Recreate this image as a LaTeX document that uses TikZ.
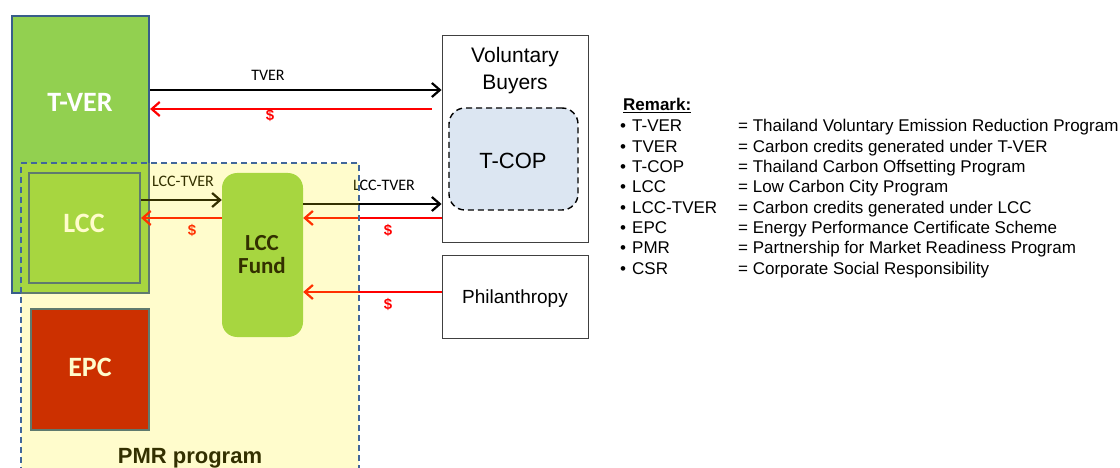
\documentclass[tikz,border=0pt]{standalone}
\usepackage{fontspec}
\setmainfont{Liberation Sans}
\newfontfamily\calfont{Carlito}
\usetikzlibrary{arrows.meta}
\definecolor{tvergreen}{HTML}{92D050}
\definecolor{frameblue}{HTML}{385D8A}
\definecolor{epcred}{HTML}{C00000}
\definecolor{tcopfill}{HTML}{DCE6F2}
\definecolor{pmrline}{HTML}{41679A}
\definecolor{boxline}{HTML}{404040}
\begin{document}
\begin{tikzpicture}[x=1pt,y=-1pt,
  box/.style={draw=frameblue,line width=2.2pt,inner sep=0pt},
  bigtext/.style={font=\calfont\bfseries\fontsize{28}{28}\selectfont,text=white,anchor=base,inner sep=0pt},
  plainbox/.style={draw=boxline,line width=0.9pt,fill=white,inner sep=0pt},
  arial/.style={font=\fontsize{#1}{#1}\selectfont,anchor=base,inner sep=0pt},
  arr/.style={line width=2.2pt,-{Straight Barb[length=8pt,width=14pt,line width=2.2pt]}},
  blk/.style={arr,black},
  redarr/.style={arr,red},
  small/.style={font=\calfont\fontsize{16}{16}\selectfont,anchor=base,inner sep=0pt},
  dollar/.style={font=\bfseries\fontsize{15}{15}\selectfont,text=red,anchor=base,inner sep=0pt},
  legend/.style={font=\fontsize{17}{17}\selectfont,anchor=base west,inner sep=0pt}
]
\useasboundingbox (0,0) rectangle (1120,468);

% T-VER box
\node[box,fill=tvergreen,minimum width=137pt,minimum height=277pt] (tver) at (80.5,154.5) {};
\node[bigtext] (tvert) at (80,112) {T-VER};

% LCC box
\node[box,fill=tvergreen,minimum width=111pt,minimum height=110pt] (lcc) at (84.5,228) {};
\node[bigtext] (lcct) at (84,233) {LCC};

% EPC box
\node[box,fill=epcred,minimum width=118pt,minimum height=121pt] (epc) at (90,369.5) {};
\node[bigtext] (epct) at (90,376) {EPC};

% LCC Fund
\node[fill=tvergreen,rounded corners=15pt,minimum width=81pt,minimum height=164pt,inner sep=0pt] (fund) at (262.5,255) {};
\node[font=\calfont\bfseries\fontsize{23}{23}\selectfont,anchor=base,inner sep=0pt] (fundt1) at (262,250) {LCC};
\node[font=\calfont\bfseries\fontsize{23}{23}\selectfont,anchor=base,inner sep=0pt] (fundt2) at (262,273) {Fund};

% Voluntary buyers
\node[plainbox,minimum width=146pt,minimum height=207pt] (vb) at (515,138.5) {};
\node[arial=21] (vbt1) at (515,63) {Voluntary};
\node[arial=21] (vbt2) at (515,90) {Buyers};
\node[draw=black,dash pattern=on 6pt off 4pt,line width=1.4pt,fill=tcopfill,rounded corners=16pt,minimum width=129pt,minimum height=102pt,inner sep=0pt] (tcop) at (513.5,159) {};
\node[arial=22] (tcopt) at (513,168) {T-COP};

% Philanthropy
\node[plainbox,minimum width=146pt,minimum height=83pt] (phil) at (515,296.5) {};
\node[arial=19] (philt) at (515,303) {Philanthropy};

% arrows
\draw[blk] (tver.east |- 0,90) -- (vb.west |- 0,90);
\node[small] (l1) at (268,81) {TVER};
\draw[redarr] ([xshift=-10pt]vb.west |- 0,109) -- (tver.east |- 0,109);
\node[dollar] (d1) at (270,121) {\$};

\draw[blk] (lcc.east |- 0,200) -- (fund.west |- 0,200);
\node[small] (l2) at (183,187) {LCC-TVER};
\draw[redarr] (fund.west |- 0,218) -- (lcc.east |- 0,218);
\node[dollar] (d2) at (192,235) {\$};

\draw[blk] (fund.east |- 0,204) -- (vb.west |- 0,204);
\node[small] (l3) at (384,191) {LCC-TVER};
\draw[redarr] (vb.west |- 0,218) -- (fund.east |- 0,218);
\node[dollar] (d3) at (388,235) {\$};

\draw[redarr] (phil.west |- 0,292) -- (fund.east |- 0,292);
\node[dollar] (d4) at (388,309) {\$};

\node[font=\bfseries\fontsize{22}{22}\selectfont,anchor=base,inner sep=0pt] (pmrt) at (190,463) {PMR program};

% PMR overlay
\node[draw=pmrline,line width=1.5pt,dash pattern=on 6pt off 4pt,fill=yellow,fill opacity=0.2,draw opacity=1,minimum width=338pt,minimum height=320pt,inner sep=0pt] (pmr) at (190,323) {};

% legend
\node[legend,font=\bfseries\fontsize{17}{17}\selectfont] (rem) at (623,111) {\underline{Remark:}};
\foreach \i/\t/\d in {0/T-VER/Thailand Voluntary Emission Reduction Program,
  1/TVER/Carbon credits generated under T-VER,
  2/T-COP/Thailand Carbon Offsetting Program,
  3/LCC/Low Carbon City Program,
  4/LCC-TVER/Carbon credits generated under LCC,
  5/EPC/Energy Performance Certificate Scheme,
  6/PMR/Partnership for Market Readiness Program,
  7/CSR/Corporate Social Responsibility}{
  \node[legend] (b\i) at (620,132+20.3*\i) {\textbullet};
  \node[legend] (t\i) at (632,132+20.3*\i) {\t};
  \node[legend] (e\i) at (738,132+20.3*\i) {= \d};
}
\end{tikzpicture}
\end{document}
